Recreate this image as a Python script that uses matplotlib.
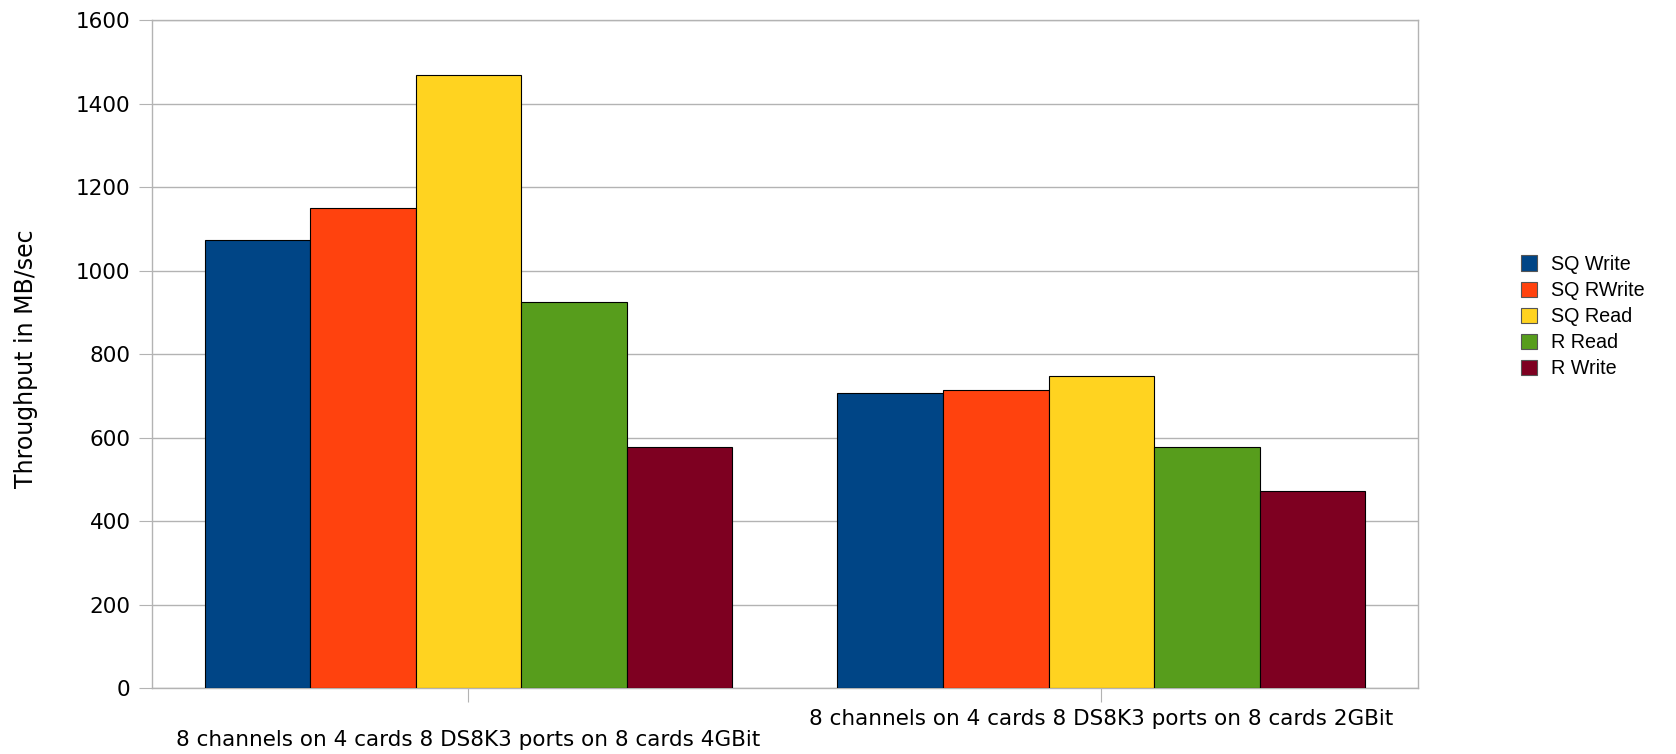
import matplotlib
matplotlib.use("Agg")
import matplotlib.pyplot as plt
from matplotlib.patches import Patch
from matplotlib.transforms import offset_copy
import numpy as np

plt.rcParams['font.family'] = ['DejaVu Sans']

categories = [
    "8 channels on 4 cards 8 DS8K3 ports on 8 cards 4GBit",
    "8 channels on 4 cards 8 DS8K3 ports on 8 cards 2GBit",
]
series_names = ["SQ Write", "SQ RWrite", "SQ Read", "R Read", "R Write"]
series_values = {
    "SQ Write": [1073, 706],
    "SQ RWrite": [1150, 714],
    "SQ Read": [1468, 747],
    "R Read": [925, 578],
    "R Write": [577, 473],
}
colors = ["#004586", "#ff420e", "#ffd320", "#579d1c", "#7e0021"]
y_ticks = [0, 200, 400, 600, 800, 1000, 1200, 1400, 1600]

fig = plt.figure(figsize=(16.76, 7.54), dpi=100)
ax = fig.add_axes([0.0907, 0.0875, 0.7553, 0.8855])

x = np.arange(len(categories))
n = len(series_names)
bar_w = 0.834 / n
for i, (name, col) in enumerate(zip(series_names, colors)):
    offs = (i - (n - 1) / 2) * bar_w
    ax.bar(x + offs, series_values[name], width=bar_w, color=col,
           edgecolor="black", linewidth=0.8, zorder=3)

ax.set_xlim(-0.5, len(categories) - 0.5)
ax.set_ylim(0, 1600)
ax.set_yticks(y_ticks)
ax.set_yticklabels([str(v) for v in y_ticks], fontsize=15.5)
ax.yaxis.grid(True, color="#b3b3b3", linewidth=1.0, zorder=0)
ax.set_axisbelow(True)
for s in ax.spines.values():
    s.set_color("#b3b3b3")
    s.set_linewidth(1.0)
ax.tick_params(axis="y", length=9.5, color="#b3b3b3", pad=6)
ax.set_xticks(x)
ax.set_xticklabels([""] * len(categories))
ax.tick_params(axis="x", length=10, color="#b3b3b3")

# staggered category labels
trans = ax.get_xaxis_transform()
drops = [52, 31]
for xi, label, d in zip(x, categories, drops):
    t = offset_copy(trans, fig=fig, x=0, y=-d, units="dots")
    ax.text(xi, 0, label, transform=t, ha="center", va="center", fontsize=15.5)

ax.set_ylabel("Throughput in MB/sec", fontsize=17)
ax.yaxis.set_label_coords(-0.0995, 0.494)
ax.yaxis.label.set_verticalalignment("center")

handles = [Patch(facecolor=c, edgecolor="#555555", linewidth=0.8) for c in colors]
fig.legend(handles, series_names, loc="center left",
           bbox_to_anchor=(0.897, 0.58), frameon=False,
           prop={"family": "Liberation Sans", "size": 14.2},
           handlelength=0.82, handleheight=0.82, handletextpad=0.72,
           labelspacing=0.36)

fig.savefig("out.png", dpi=100)
